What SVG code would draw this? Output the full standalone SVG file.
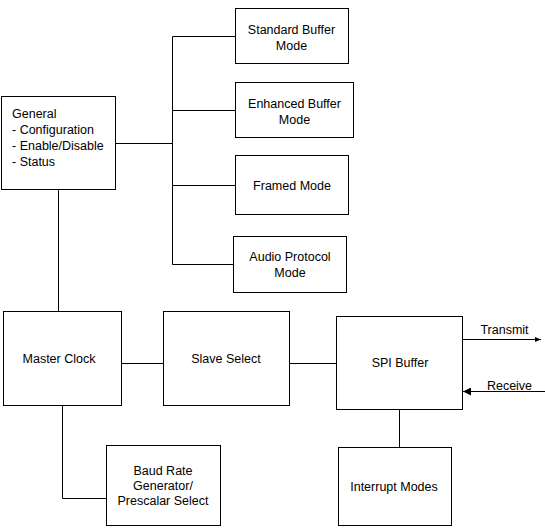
<svg xmlns="http://www.w3.org/2000/svg" width="545" height="532" viewBox="0 0 545 532">
<style>
.box{fill:#fff;stroke:#000;stroke-width:1}
.ln{fill:none;stroke:#000;stroke-width:1}
text{font-family:"Liberation Sans",Arial,sans-serif;font-size:12.5px;fill:#000}
.c{text-anchor:middle}
</style>
<defs>
<marker id="arrR" markerWidth="6" markerHeight="6" refX="6" refY="3" orient="auto" markerUnits="userSpaceOnUse">
<path d="M0,0.5 L6,3 L0,5.5 Z" fill="#000"/>
</marker>
<marker id="arrL" markerWidth="8" markerHeight="8" refX="8" refY="4" orient="auto" markerUnits="userSpaceOnUse">
<path d="M0,0 L8,4 L0,8 Z" fill="#000"/>
</marker>
</defs>
<rect width="545" height="532" fill="#fff"/>
<g id="connectors">
<path class="ln" d="M115.5 143.5 H172.5"/>
<path class="ln" d="M172.5 36.5 V264.5"/>
<path class="ln" d="M172.5 36.5 H235.5"/>
<path class="ln" d="M172.5 110.5 H235.5"/>
<path class="ln" d="M172.5 185.5 H235.5"/>
<path class="ln" d="M172.5 264.5 H236"/>
<path class="ln" d="M58.5 189.5 V311.5"/>
<path class="ln" d="M121.5 363.5 H163.5"/>
<path class="ln" d="M289.5 363.5 H336.5"/>
<path class="ln" d="M62.5 405.5 V498.5 H106.5"/>
<path class="ln" d="M399.5 409.5 V447.5"/>
<path class="ln" d="M462.5 339.5 H541" marker-end="url(#arrR)"/>
<path class="ln" d="M545 391.5 H463" marker-end="url(#arrL)"/>
<text x="504.5" y="333.5" class="c">Transmit</text>
<text x="509.5" y="389.5" class="c">Receive</text>
</g>
<g id="general">
<rect class="box" x="1.5" y="96.5" width="114" height="93"/>
<text x="12" y="118">General</text>
<text x="12" y="134">- Configuration</text>
<text x="12" y="150">- Enable/Disable</text>
<text x="12" y="166">- Status</text>
</g>
<g id="standard-buffer">
<rect class="box" x="235.5" y="8.5" width="113" height="55"/>
<text x="291.5" y="34" class="c">Standard Buffer</text>
<text x="291.5" y="49.5" class="c">Mode</text>
</g>
<g id="enhanced-buffer">
<rect class="box" x="235.5" y="82.5" width="118" height="55"/>
<text x="294.5" y="108" class="c">Enhanced Buffer</text>
<text x="294.5" y="123.5" class="c">Mode</text>
</g>
<g id="framed">
<rect class="box" x="235.5" y="155.5" width="113" height="59"/>
<text x="292" y="189.5" class="c">Framed Mode</text>
</g>
<g id="audio">
<rect class="box" x="233.5" y="236.5" width="113" height="56"/>
<text x="290" y="261" class="c">Audio Protocol</text>
<text x="290" y="277" class="c">Mode</text>
</g>
<g id="master-clock">
<rect class="box" x="3.5" y="311.5" width="118" height="94"/>
<text x="59" y="363" class="c">Master Clock</text>
</g>
<g id="slave-select">
<rect class="box" x="163.5" y="311.5" width="126" height="94"/>
<text x="226" y="363" class="c">Slave Select</text>
</g>
<g id="spi-buffer">
<rect class="box" x="336.5" y="316.5" width="126" height="93"/>
<text x="400" y="367" class="c">SPI Buffer</text>
</g>
<g id="interrupt-modes">
<rect class="box" x="338.5" y="447.5" width="113" height="78"/>
<text x="394" y="491" class="c">Interrupt Modes</text>
</g>
<g id="baud-rate">
<rect class="box" x="106.5" y="445.5" width="114" height="80"/>
<text x="163" y="474.5" class="c">Baud Rate</text>
<text x="163" y="490" class="c">Generator/</text>
<text x="163" y="505" class="c">Prescalar Select</text>
</g>
</svg>
